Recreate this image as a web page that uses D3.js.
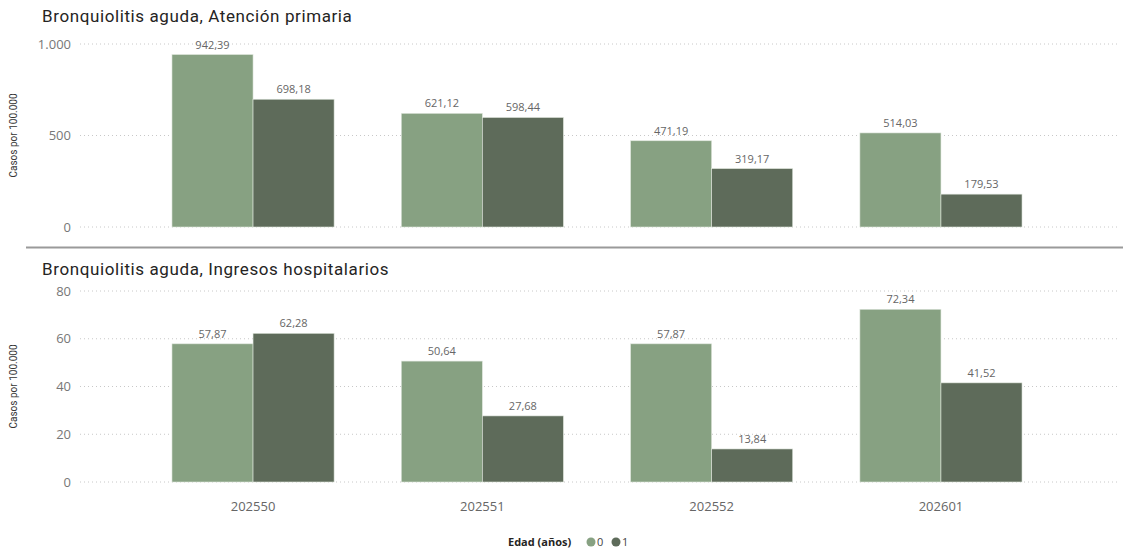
<!DOCTYPE html>
<html>
<head>
<meta charset="utf-8">
<script src="https://cdn.jsdelivr.net/npm/d3@7"></script>
<style>
  html, body { margin: 0; padding: 0; background: #fff; }
  svg { display: block; }
</style>
</head>
<body>
<svg id="chart" width="1123" height="555"></svg>
<script>
// Epidemiological weeks on the x axis
const weeks = ["202550", "202551", "202552", "202601"];
// Age groups (years)
const ageGroups = ["0", "1"];
// Cases per 100.000, primary care
const primaryAge0 = [942.39, 621.12, 471.19, 514.03];
const primaryAge1 = [698.18, 598.44, 319.17, 179.53];
// Cases per 100.000, hospital admissions
const hospitalAge0 = [57.87, 50.64, 57.87, 72.34];
const hospitalAge1 = [62.28, 27.68, 13.84, 41.52];
// Axis ticks
const primaryTicks = [0, 500, 1000];
const hospitalTicks = [0, 20, 40, 60, 80];

const colors = { "0": "#87A182", "1": "#5E6B5A" };
const fmt = d3.formatLocale({ decimal: ",", thousands: ".", grouping: [3], currency: ["", "€"] });
const fmtVal = fmt.format(",.2f");
const fmtTick = fmt.format(",d");

const svg = d3.select("#chart");

const x0 = d3.scaleBand().domain(weeks).range([138.5, 1055.5]).paddingInner(0.293).paddingOuter(0.146);
const x1 = d3.scaleBand().domain(ageGroups).range([0, x0.bandwidth()]).padding(0);

function panel(opts) {
  const g = svg.append("g");
  const y = d3.scaleLinear().domain([0, opts.max]).range([opts.bottom, opts.top]);

  g.append("text")
    .attr("x", 42).attr("y", opts.titleY)
    .attr("font-family", "Roboto, 'Open Sans', sans-serif")
    .attr("font-size", 17).attr("letter-spacing", 0.6).attr("fill", "#252423")
    .text(opts.title);

  // dotted gridlines
  g.append("g").selectAll("line").data(opts.ticks).join("line")
    .attr("x1", 80).attr("x2", 1120)
    .attr("y1", d => y(d)).attr("y2", d => y(d))
    .attr("stroke", "#c8c8c8").attr("stroke-width", 1)
    .attr("stroke-dasharray", "1,3");

  // y axis labels
  const ay = g.append("g").attr("transform", "translate(71,0)")
    .call(d3.axisLeft(y).tickValues(opts.ticks).tickFormat(fmtTick).tickSize(0).tickPadding(0));
  ay.select(".domain").remove();
  ay.selectAll("text")
    .attr("font-family", "'Open Sans', sans-serif")
    .attr("font-size", 13).attr("fill", "#777");

  g.append("text")
    .attr("transform", `translate(17,${(opts.top + opts.bottom) / 2}) rotate(-90)`)
    .attr("text-anchor", "middle")
    .attr("font-family", "Roboto, 'Open Sans', sans-serif")
    .attr("font-size", 10).attr("fill", "#333")
    .text("Casos por 100.000");

  const rows = weeks.map((w, i) => ({ week: w, values: [
    { age: "0", v: opts.s0[i] }, { age: "1", v: opts.s1[i] }] }));

  const grp = g.append("g").selectAll("g").data(rows).join("g")
    .attr("transform", d => `translate(${x0(d.week)},0)`);

  grp.selectAll("rect").data(d => d.values).join("rect")
    .attr("x", d => x1(d.age))
    .attr("width", x1.bandwidth())
    .attr("y", d => y(d.v))
    .attr("height", d => y(0) - y(d.v))
    .attr("fill", d => colors[d.age])
    .attr("stroke", "#dfe6dd").attr("stroke-width", 0.6);

  grp.selectAll("text").data(d => d.values).join("text")
    .attr("x", d => x1(d.age) + x1.bandwidth() / 2)
    .attr("y", d => y(d.v) - 6)
    .attr("text-anchor", "middle")
    .attr("font-family", "'Open Sans', sans-serif")
    .attr("font-size", 11).attr("fill", "#666")
    .text(d => fmtVal(d.v));

  return y;
}

panel({ title: "Bronquiolitis aguda, Atención primaria", titleY: 22,
  top: 44, bottom: 227, max: 1000, ticks: primaryTicks, s0: primaryAge0, s1: primaryAge1 });

// separator between the two panels
svg.append("line").attr("x1", 26).attr("x2", 1123).attr("y1", 247.5).attr("y2", 247.5)
  .attr("stroke", "#9a9a9a").attr("stroke-width", 2);

panel({ title: "Bronquiolitis aguda, Ingresos hospitalarios", titleY: 275,
  top: 291, bottom: 482, max: 80, ticks: hospitalTicks, s0: hospitalAge0, s1: hospitalAge1 });

// x axis
const ax = svg.append("g").attr("transform", "translate(0,502)")
  .call(d3.axisBottom(x0).tickSize(0).tickPadding(0));
ax.select(".domain").remove();
ax.selectAll("text")
  .attr("dy", "0.71em")
  .attr("font-family", "'Open Sans', sans-serif")
  .attr("font-size", 13).attr("fill", "#666");

// legend
const lg = svg.append("g").attr("transform", "translate(0,541)");
lg.append("text").attr("x", 508).attr("y", 5)
  .attr("font-family", "'Open Sans', sans-serif").attr("font-weight", "bold")
  .attr("font-size", 11).attr("fill", "#252423").text("Edad (años)");
const li = lg.selectAll("g.item").data(ageGroups).join("g")
  .attr("transform", (d, i) => `translate(${591 + i * 25},0)`);
li.append("circle").attr("r", 4.5).attr("cx", 0).attr("cy", 1).attr("fill", d => colors[d]);
li.append("text").attr("x", 6).attr("y", 5)
  .attr("font-family", "'Open Sans', sans-serif")
  .attr("font-size", 11).attr("fill", "#444").text(d => d);
</script>
</body>
</html>
